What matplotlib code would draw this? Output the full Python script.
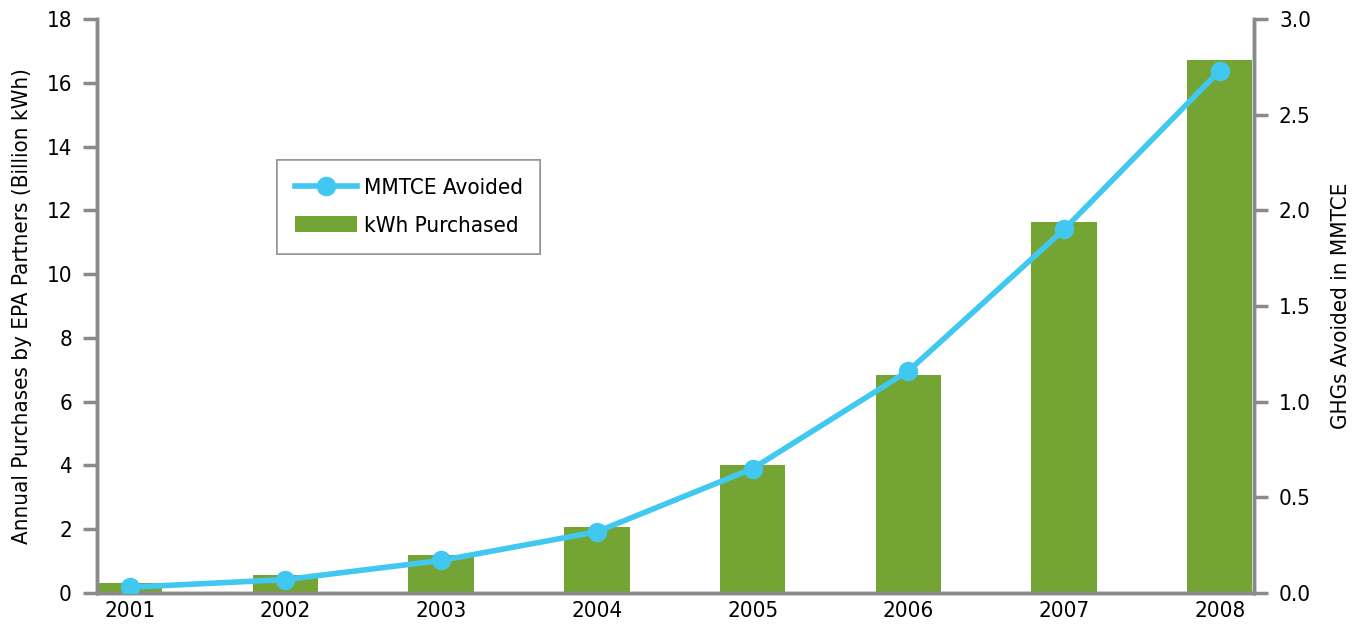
import matplotlib.pyplot as plt
import numpy as np

# Green power purchases by EPA partners and GHGs avoided, 2001-2008
years = ["2001", "2002", "2003", "2004", "2005", "2006", "2007", "2008"]
kwh_purchased = [0.3, 0.57, 1.18, 2.07, 4.01, 6.84, 11.62, 16.71]
mmtce_avoided = [0.03, 0.07, 0.17, 0.32, 0.65, 1.16, 1.90, 2.73]

plt.rcParams['font.family'] = ['DejaVu Sans']
plt.rcParams['font.stretch'] = 'condensed'

bar_green = "#74a534"
line_blue = "#41c8f0"
axis_grey = "#8a8a8a"

fig = plt.figure(figsize=(13.62, 6.25), dpi=100)
ax = fig.add_axes([0.0712, 0.0512, 0.8495, 0.9184])
ax2 = ax.twinx()

x = np.arange(len(years))
bars = ax.bar(x, kwh_purchased, width=0.42, color=bar_green, label="kWh Purchased", zorder=2)
line, = ax2.plot(x, mmtce_avoided, color=line_blue, lw=4, marker="o", ms=13,
                 label="MMTCE Avoided", zorder=3)

ax.set_xlim(-0.21, 7.22)
ax.set_ylim(0, 18)
ax.set_yticks(range(0, 19, 2))
ax2.set_ylim(0, 3.0)
ax2.set_yticks(np.arange(0, 3.01, 0.5))
ax2.set_yticklabels([f"{v:.1f}" for v in np.arange(0, 3.01, 0.5)])

ax.set_xticks(x)
ax.set_xticklabels(years)

for a in (ax, ax2):
    a.spines["top"].set_visible(False)
    for s in ("left", "right", "bottom"):
        a.spines[s].set_color(axis_grey)
        a.spines[s].set_linewidth(2.5)
    a.tick_params(axis="y", colors=axis_grey, labelcolor="black", length=10, width=2.5,
                  labelsize=16, pad=8)
ax.tick_params(axis="x", length=0, labelsize=16, pad=6)

ax.set_ylabel("Annual Purchases by EPA Partners (Billion kWh)", fontsize=16, labelpad=10)
ax2.set_ylabel("GHGs Avoided in MMTCE", fontsize=16, labelpad=14)

ax2.set_zorder(ax.get_zorder() + 1)
ax2.patch.set_visible(False)

leg = ax.legend([line, bars], ["MMTCE Avoided", "kWh Purchased"],
                loc="upper left", bbox_to_anchor=(0.1556, 0.754), borderaxespad=0,
                fontsize=16, frameon=True, fancybox=False, edgecolor=axis_grey,
                handlelength=2.8, borderpad=0.8, labelspacing=0.8, handletextpad=0.3)
leg.get_frame().set_linewidth(1.2)
fig.add_artist(leg)

fig.savefig("out.png", dpi=100)
